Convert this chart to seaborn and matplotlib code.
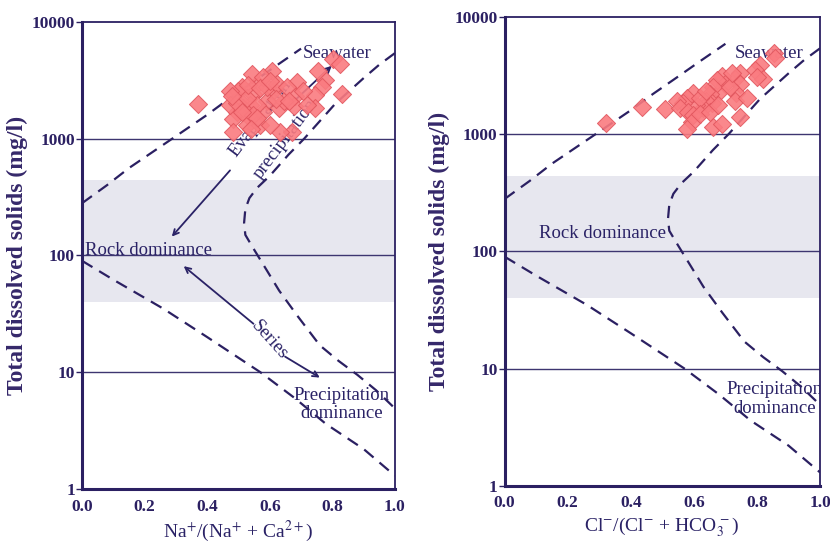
import numpy as np
import pandas as pd
import matplotlib
matplotlib.use("Agg")
import matplotlib.pyplot as plt
import seaborn as sns

# sample points
na_x = [0.372, 0.803, 0.824, 0.830, 0.777, 0.766, 0.745, 0.745, 0.686, 0.681,
        0.676, 0.670, 0.633, 0.606, 0.612, 0.628, 0.590, 0.580, 0.559, 0.548,
        0.537, 0.532, 0.527, 0.511, 0.505, 0.495, 0.484, 0.484, 0.500, 0.516,
        0.569, 0.559, 0.590, 0.473, 0.473, 0.495, 0.543, 0.580, 0.622, 0.644,
        0.654, 0.527, 0.548, 0.718, 0.707, 0.755, 0.530, 0.560, 0.600, 0.620,
        0.510, 0.570, 0.480, 0.660, 0.540, 0.600]
na_tds = [1970, 4790, 4325, 2415, 3160, 2750, 2345, 1835, 3070, 2335,
          1900, 1135, 1135, 3775, 2590, 1835, 2090, 1700, 2950, 2400,
          1950, 1550, 1300, 2750, 2090, 1700, 1480, 1135, 2570, 1820,
          1300, 1950, 2750, 2570, 1950, 2040, 3550, 3390, 2950, 2090,
          2750, 2240, 1580, 1950, 2570, 3775, 2900, 1500, 1300, 2200,
          1700, 2700, 2300, 2100, 1200, 3100]

cl_x = [0.320, 0.437, 0.508, 0.854, 0.857, 0.810, 0.794, 0.820, 0.800, 0.746,
        0.730, 0.746, 0.735, 0.730, 0.767, 0.746, 0.688, 0.698, 0.683, 0.672,
        0.661, 0.651, 0.656, 0.640, 0.630, 0.608, 0.598, 0.577, 0.566, 0.545,
        0.556, 0.582, 0.598, 0.593, 0.577, 0.661, 0.688, 0.619, 0.640, 0.714,
        0.720, 0.619, 0.651, 0.677]
cl_tds = [1245, 1720, 1640, 4900, 4470, 3890, 3550, 2950, 3090, 3310,
          2950, 2690, 2240, 1905, 2040, 1400, 3160, 2690, 2345, 2880,
          2510, 2190, 1840, 1905, 1660, 1780, 2260, 2040, 1840, 1905,
          1660, 1550, 1445, 1260, 1100, 1140, 1220, 2040, 2345, 2510,
          3310, 1500, 1550, 1780]

# Gibbs boundary curves
upper_x = [0.0, 0.08, 0.15, 0.30, 0.40, 0.47, 0.55, 0.62, 0.70]
upper_y = [280, 400, 560, 1050, 1600, 2200, 3100, 4200, 5900]
right_x = [1.0, 0.95, 0.90, 0.81, 0.71, 0.66, 0.60, 0.56, 0.535, 0.522, 0.518,
           0.522, 0.545, 0.59, 0.63, 0.69, 0.76, 0.82, 0.88, 0.94, 1.0]
right_y = [5400, 4300, 3300, 2000, 1000, 730, 480, 380, 310, 250, 190,
           150, 118, 75, 50, 30, 17, 12.5, 9.5, 7.0, 4.9]
lower_x = [0.0, 0.10, 0.26, 0.40, 0.57, 0.68, 0.78, 0.90, 1.0]
lower_y = [90, 62, 35, 20, 10, 6.0, 3.6, 2.2, 1.3]

band = (40, 440)
grid_levels = [10, 100, 1000]
xticks = [0.0, 0.2, 0.4, 0.6, 0.8, 1.0]
yticks = [1, 10, 100, 1000, 10000]

sns.set_style("white")
plt.rcParams['font.family'] = ['Liberation Serif', 'DejaVu Serif']
plt.rcParams['mathtext.fontset'] = 'stix'

navy = '#2b2062'
txt = '#2a2266'
pink = '#fa7b80'
pink_edge = '#e2565e'

fig = plt.figure(figsize=(8.3, 5.47), dpi=100)
ax1 = fig.add_axes([0.0988, 0.106, 0.377, 0.854])
ax2 = fig.add_axes([0.608, 0.112, 0.380, 0.857])


def base(ax, xs, ys, xlabel):
    ax.set_yscale('log')
    ax.set_xlim(0, 1)
    ax.set_ylim(1, 10000)
    ax.axhspan(band[0], band[1], color='#e7e7ef', zorder=0, lw=0)
    for g in grid_levels:
        ax.axhline(g, color='#3d3570', lw=1.0, zorder=1)
    for cx, cy in [(upper_x, upper_y), (right_x, right_y), (lower_x, lower_y)]:
        d = pd.DataFrame({'x': cx, 'y': cy})
        sns.lineplot(data=d, x='x', y='y', sort=False, estimator=None, ax=ax,
                     color=navy, lw=1.6, zorder=2)
        ax.lines[-1].set_dashes((5.5, 3.5))
    pts = pd.DataFrame({'x': xs, 'tds': ys})
    sns.scatterplot(data=pts, x='x', y='tds', marker='D', s=85, color=pink,
                    edgecolor=pink_edge, linewidth=0.7, alpha=0.9, ax=ax, zorder=5)
    ax.set_xticks(xticks)
    ax.set_xticklabels([f'{t:.1f}' for t in xticks])
    ax.set_yticks(yticks)
    ax.set_yticklabels([str(t) for t in yticks])
    ax.minorticks_off()
    ax.tick_params(axis='x', length=0, pad=7, labelsize=12.5, labelcolor=navy)
    ax.tick_params(axis='y', length=4, width=1, color=navy, pad=1,
                   labelsize=12.5, labelcolor=navy, left=True)
    for lab in ax.get_xticklabels() + ax.get_yticklabels():
        lab.set_fontweight('bold')
    for side in ['left', 'bottom']:
        ax.spines[side].set_color(navy)
        ax.spines[side].set_linewidth(2.2)
    for side in ['top', 'right']:
        ax.spines[side].set_color(navy)
        ax.spines[side].set_linewidth(1.3)
    ax.set_xlabel(xlabel, fontsize=14, color=txt, labelpad=3)
    ax.set_ylabel('Total dissolved solids (mg/l)', fontsize=17, color='#35286a',
                  fontweight='bold', labelpad=3)


base(ax1, na_x, na_tds, r'Na$^{+}$/(Na$^{+}$ + Ca$^{2+}$)')
base(ax2, cl_x, cl_tds, r'Cl$^{-}$/(Cl$^{-}$ + HCO$_{3}^{\,-}$)')

akw = dict(color=txt, fontsize=13.5, zorder=3)
arrow = dict(arrowstyle='->', color=txt, lw=1.3, shrinkA=0, shrinkB=0)

# left panel labels
ax1.text(0.705, 5400, 'Seawater', va='center', ha='left', **akw)
ax1.text(0.01, 110, 'Rock dominance', va='center', ha='left', **akw)
ax1.text(0.83, 5.3, 'Precipitation\ndominance', va='center', ha='center',
         linespacing=1.1, **akw)
ax1.text(0.57, 1500, 'Evaporation', rotation=53, va='center', ha='center', **akw)
ax1.text(0.65, 1000, 'precipitation', rotation=53, va='center', ha='center', **akw)
ax1.text(0.60, 19, 'Series', rotation=-48, va='center', ha='center', **akw)
ax1.annotate('', xy=(0.287, 145), xytext=(0.473, 535), arrowprops=arrow, zorder=3)
ax1.annotate('', xy=(0.798, 4200), xytext=(0.665, 1950), arrowprops=arrow, zorder=3)
ax1.annotate('', xy=(0.325, 81), xytext=(0.548, 26), arrowprops=arrow, zorder=3)
ax1.annotate('', xy=(0.76, 9.0), xytext=(0.649, 13.6), arrowprops=arrow, zorder=3)

# right panel labels
ax2.text(0.73, 4900, 'Seawater', va='center', ha='left', **akw)
ax2.text(0.11, 143, 'Rock dominance', va='center', ha='left', **akw)
ax2.text(0.855, 5.5, 'Precipitation\ndominance', va='center', ha='center',
         linespacing=1.1, clip_on=True, **akw)

fig.savefig('out.png', dpi=100)
